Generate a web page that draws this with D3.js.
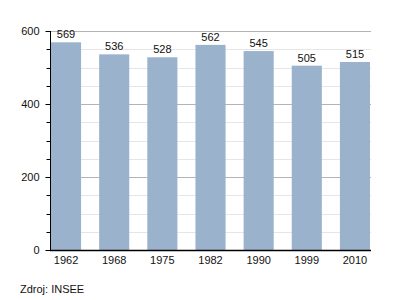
<!DOCTYPE html>
<html><head><meta charset="utf-8">
<script src="https://cdn.jsdelivr.net/npm/d3@7"></script>
<style>body{margin:0;background:#fff}svg{display:block}text{font-family:"Liberation Sans",Arial,sans-serif;font-size:11px;fill:#111}</style>
</head><body>
<script>
const categories = ["1962","1968","1975","1982","1990","1999","2010"];
const values = [569,536,528,562,545,505,515];
const yMajorTicks = [0,200,400,600];
const yMinorTicks = [50,100,150,250,300,350,450,500,550];
const source = "Zdroj: INSEE";

const W=400,H=300, L=50, R=371, T=31, B=250;
const svg=d3.select("body").append("svg").attr("width",W).attr("height",H);
const x=d3.scaleBand().domain(categories).range([51,370]).paddingInner(0.375).paddingOuter(0);
const y=d3.scaleLinear().domain([0,600]).range([B,T]);

// minor gridlines
svg.append("g").selectAll("line").data(yMinorTicks).join("line")
 .attr("x1",L).attr("x2",R).attr("y1",d=>Math.round(y(d))+0.5).attr("y2",d=>Math.round(y(d))+0.5)
 .attr("stroke","#e6e6e6").attr("stroke-width",1);
svg.append("g").selectAll("line").data(yMajorTicks.filter(d=>d>0)).join("line")
 .attr("x1",L).attr("x2",R).attr("y1",d=>Math.round(y(d))+0.5).attr("y2",d=>Math.round(y(d))+0.5)
 .attr("stroke","#b4b4b4").attr("stroke-width",1);

// bars
svg.append("g").selectAll("rect").data(values).join("rect")
 .attr("x",(d,i)=>x(categories[i])).attr("width",x.bandwidth())
 .attr("y",d=>y(d)).attr("height",d=>B-y(d)).attr("fill","#9ab2cc");

// value labels
svg.append("g").selectAll("text").data(values).join("text")
 .attr("x",(d,i)=>x(categories[i])+x.bandwidth()/2).attr("y",d=>y(d)-4)
 .attr("text-anchor","middle").text(d=>d);

// y axis
const ya=svg.append("g").attr("transform",`translate(${L+0.5},0)`)
 .call(d3.axisLeft(y).tickValues(yMajorTicks).tickSize(5).tickPadding(6).tickFormat(d3.format("d")));
ya.select(".domain").attr("d",`M0,${T}V${B}`).attr("stroke","#000");
ya.selectAll("text").style("font-family","Liberation Sans, Arial, sans-serif").style("font-size","11px").attr("fill","#111");
svg.append("g").attr("transform",`translate(${L+0.5},0)`).selectAll("line").data(yMinorTicks).join("line")
 .attr("x1",-4).attr("x2",0).attr("y1",d=>Math.round(y(d))+0.5).attr("y2",d=>Math.round(y(d))+0.5).attr("stroke","#000");

// x axis
const xa=svg.append("g").attr("transform",`translate(0,${B+0.5})`)
 .call(d3.axisBottom(x).tickSize(0).tickPadding(6));
xa.select(".domain").attr("d",`M${L},0H${R}`).attr("stroke","#000").attr("stroke-width",1.5);
xa.selectAll("text").style("font-family","Liberation Sans, Arial, sans-serif").style("font-size","11px").attr("fill","#111");

svg.append("text").attr("x",20).attr("y",293).text(source);
</script>
</body></html>
